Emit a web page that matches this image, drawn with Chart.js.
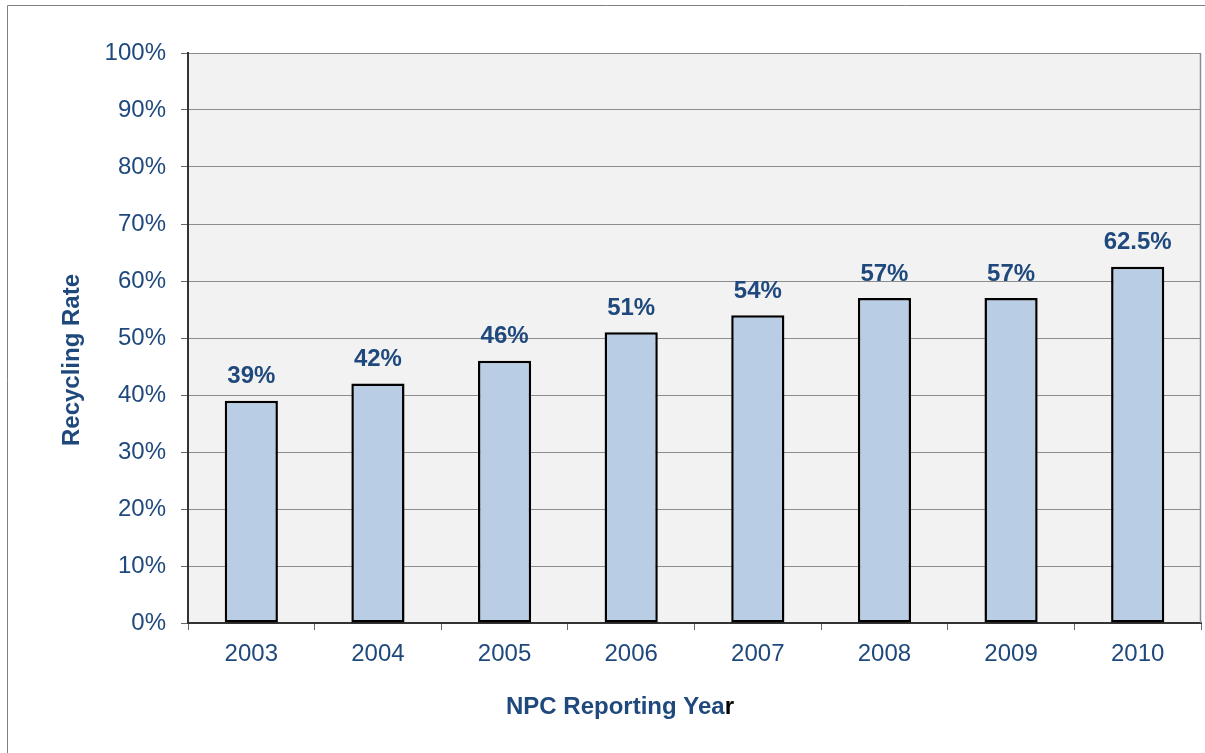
<!DOCTYPE html>
<html>
<head>
<meta charset="utf-8">
<title>Recycling Rate</title>
<script src="https://cdn.jsdelivr.net/npm/chart.js@4/dist/chart.umd.min.js"></script>
<style>
  html, body { margin: 0; padding: 0; background: #ffffff; }
  canvas { display: block; }
</style>
</head>
<body>
<canvas id="recyclingChart" width="1205" height="753"></canvas>
<script>
const years = ['2003', '2004', '2005', '2006', '2007', '2008', '2009', '2010'];
const recyclingRate = [39, 42, 46, 51, 54, 57, 57, 62.5];
const yTicks = [0, 10, 20, 30, 40, 50, 60, 70, 80, 90, 100];

const blueText = '#1f497d';
const fontFamily = '"Liberation Sans", Arial, sans-serif';

// plot background, outer frame and axis titles
const decorPlugin = {
    id: 'decor',
    beforeDraw(chart) {
        const ctx = chart.ctx;
        const a = chart.chartArea;
        ctx.save();
        ctx.fillStyle = '#ffffff';
        ctx.fillRect(0, 0, chart.width, chart.height);
        ctx.fillStyle = '#f2f2f2';
        ctx.fillRect(a.left, a.top, a.right - a.left, a.bottom - a.top);
        ctx.strokeStyle = '#808080';
        ctx.lineWidth = 1;
        ctx.beginPath();
        ctx.moveTo(7.5, chart.height);
        ctx.lineTo(7.5, 5.5);
        ctx.lineTo(chart.width, 5.5);
        ctx.stroke();
        ctx.restore();
    },
    afterDraw(chart) {
        const ctx = chart.ctx;
        const a = chart.chartArea;
        ctx.save();
        // right border of plot area
        ctx.strokeStyle = '#8c8c8c';
        ctx.lineWidth = 1.5;
        ctx.beginPath();
        ctx.moveTo(a.right - 0.5, a.top);
        ctx.lineTo(a.right - 0.5, a.bottom);
        ctx.stroke();

        ctx.font = 'bold 24px ' + fontFamily;
        ctx.textBaseline = 'middle';
        // x title, last letter is black in the original
        const part1 = 'NPC Reporting Yea';
        const part2 = 'r';
        const w1 = ctx.measureText(part1).width;
        const w2 = ctx.measureText(part2).width;
        const startX = 620 - (w1 + w2) / 2;
        ctx.textAlign = 'left';
        ctx.fillStyle = blueText;
        ctx.fillText(part1, startX, 707);
        ctx.fillStyle = '#000000';
        ctx.fillText(part2, startX + w1, 707);

        // y title
        ctx.translate(72, 360);
        ctx.rotate(-Math.PI / 2);
        ctx.textAlign = 'center';
        ctx.fillStyle = blueText;
        ctx.fillText('Recycling Rate', 0, 0);
        ctx.restore();
    }
};

// value labels above each bar
const barLabelPlugin = {
    id: 'barLabels',
    afterDatasetsDraw(chart) {
        const ctx = chart.ctx;
        const meta = chart.getDatasetMeta(0);
        ctx.save();
        ctx.font = 'bold 24px ' + fontFamily;
        ctx.fillStyle = blueText;
        ctx.textAlign = 'center';
        ctx.textBaseline = 'middle';
        meta.data.forEach(function(bar, i) {
            ctx.fillText(recyclingRate[i] + '%', bar.x, bar.y - 24);
        });
        ctx.restore();
    }
};

const ctx = document.getElementById('recyclingChart').getContext('2d');

new Chart(ctx, {
    type: 'bar',
    data: {
        labels: years,
        datasets: [{
            label: 'Recycling Rate',
            data: recyclingRate,
            backgroundColor: '#b9cde5',
            borderColor: '#000000',
            borderWidth: 2.5,
            borderSkipped: false,
            barPercentage: 0.42,
            categoryPercentage: 1.0
        }]
    },
    options: {
        responsive: false,
        animation: false,
        layout: {
            padding: { top: 53, right: 4, left: 0, bottom: 0 }
        },
        plugins: {
            legend: { display: false },
            tooltip: { enabled: false }
        },
        scales: {
            x: {
                offset: true,
                grid: {
                    offset: true,
                    drawOnChartArea: false,
                    tickLength: 7,
                    tickColor: '#666666'
                },
                border: { color: '#333333', width: 2 },
                ticks: {
                    color: blueText,
                    padding: 10,
                    font: { family: fontFamily, size: 24 }
                },
                afterFit(scale) { scale.height = 130; }
            },
            y: {
                min: 0,
                max: 100,
                afterBuildTicks(scale) {
                    scale.ticks = yTicks.map(function(v) { return { value: v }; });
                },
                grid: {
                    color: '#8c8c8c',
                    tickLength: 7,
                    tickColor: '#666666'
                },
                border: { color: '#333333', width: 2 },
                ticks: {
                    color: blueText,
                    padding: 15,
                    font: { family: fontFamily, size: 24 },
                    callback: function(v) { return v + '%'; }
                },
                afterFit(scale) { scale.width = 188; }
            }
        }
    },
    plugins: [decorPlugin, barLabelPlugin]
});
</script>
</body>
</html>
